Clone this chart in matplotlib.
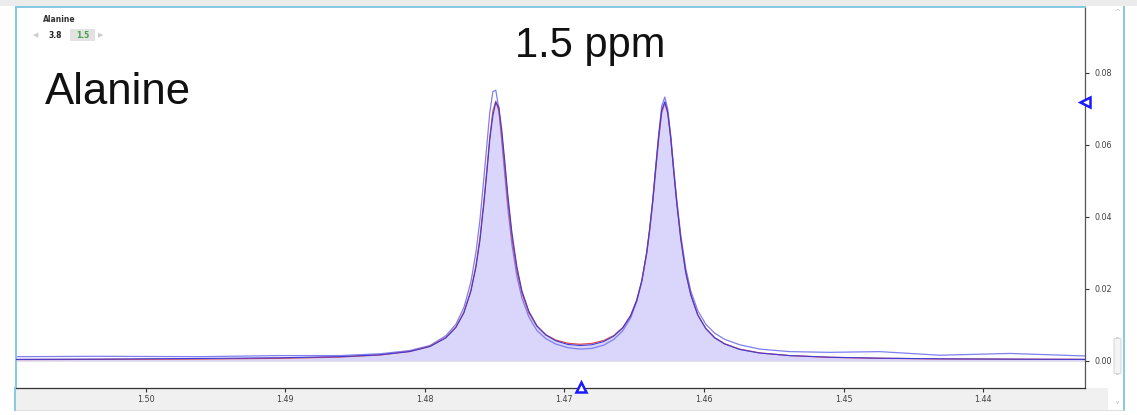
import matplotlib
matplotlib.use("Agg")
import matplotlib.pyplot as plt
from matplotlib.patches import Rectangle, FancyBboxPatch
from matplotlib.lines import Line2D

# ---------------- data ----------------
ppm = [1.50930, 1.50328, 1.49612, 1.49039, 1.48609, 1.48323, 1.48108, 1.47964,
       1.47850, 1.47778, 1.47721, 1.47671, 1.47635, 1.47606, 1.47578, 1.47556,
       1.47535, 1.47513, 1.47492, 1.47470, 1.47449, 1.47427, 1.47406, 1.47377,
       1.47341, 1.47305, 1.47255, 1.47198, 1.47133, 1.47062, 1.46976, 1.46890,
       1.46804, 1.46718, 1.46646, 1.46582, 1.46525, 1.46482, 1.46446, 1.46410,
       1.46389, 1.46367, 1.46346, 1.46324, 1.46303, 1.46281, 1.46260, 1.46238,
       1.46217, 1.46195, 1.46166, 1.46131, 1.46095, 1.46045, 1.45987, 1.45923,
       1.45851, 1.45744, 1.45601, 1.45386, 1.45099, 1.44741, 1.44311, 1.43810,
       1.43272]

fit_red = [0.00041, 0.00045, 0.00056, 0.00075, 0.00110, 0.00167, 0.00265, 0.00409,
           0.00652, 0.00945, 0.01353, 0.01959, 0.02641, 0.03411, 0.04426, 0.05323,
           0.06229, 0.06940, 0.07215, 0.06943, 0.06236, 0.05335, 0.04442, 0.03433,
           0.02511, 0.01887, 0.01336, 0.00968, 0.00729, 0.00581, 0.00492, 0.00464,
           0.00487, 0.00569, 0.00707, 0.00929, 0.01270, 0.01689, 0.02218, 0.03001,
           0.03637, 0.04412, 0.05298, 0.06194, 0.06895, 0.07166, 0.06891, 0.06186,
           0.05286, 0.04396, 0.03389, 0.02466, 0.01840, 0.01281, 0.00902, 0.00648,
           0.00477, 0.00329, 0.00225, 0.00149, 0.00102, 0.00075, 0.00059, 0.00050,
           0.00044]

spec_dark = [0.00045, 0.00052, 0.00070, 0.00090, 0.00120, 0.00170, 0.00262, 0.00400,
             0.00640, 0.00930, 0.01330, 0.01920, 0.02580, 0.03330, 0.04330, 0.05220,
             0.06140, 0.06800, 0.07180, 0.07050, 0.06400, 0.05520, 0.04620, 0.03580,
             0.02620, 0.01950, 0.01380, 0.00980, 0.00720, 0.00560, 0.00460, 0.00430,
             0.00450, 0.00540, 0.00690, 0.00920, 0.01260, 0.01690, 0.02230, 0.03030,
             0.03680, 0.04470, 0.05370, 0.06270, 0.06970, 0.07200, 0.06900, 0.06170,
             0.05260, 0.04370, 0.03370, 0.02460, 0.01840, 0.01280, 0.00900, 0.00640,
             0.00470, 0.00320, 0.00220, 0.00150, 0.00105, 0.00078, 0.00060, 0.00052,
             0.00045]

spec_light = [0.00120, 0.00130, 0.00120, 0.00150, 0.00150, 0.00200, 0.00290, 0.00430,
              0.00700, 0.01020, 0.01480, 0.02180, 0.03000, 0.03900, 0.05050, 0.06000,
              0.06900, 0.07480, 0.07520, 0.07000, 0.06100, 0.05150, 0.04250, 0.03250,
              0.02350, 0.01750, 0.01220, 0.00850, 0.00620, 0.00470, 0.00370, 0.00330,
              0.00350, 0.00440, 0.00600, 0.00840, 0.01200, 0.01650, 0.02200, 0.03020,
              0.03680, 0.04480, 0.05400, 0.06330, 0.07080, 0.07330, 0.07000, 0.06250,
              0.05350, 0.04470, 0.03480, 0.02580, 0.01950, 0.01400, 0.01020, 0.00770,
              0.00600, 0.00450, 0.00330, 0.00260, 0.00240, 0.00260, 0.00160, 0.00210,
              0.00140]

x_ticks = [1.50, 1.49, 1.48, 1.47, 1.46, 1.45, 1.44]
x_tick_labels = ["1.50", "1.49", "1.48", "1.47", "1.46", "1.45", "1.44"]
y_ticks = [0.00, 0.02, 0.04, 0.06, 0.08]
y_tick_labels = ["0.00", "0.02", "0.04", "0.06", "0.08"]

x_range = (1.5093, 1.4327)
y_range = (-0.0075, 0.0983)

cursor_ppm = 1.4688
cursor_level = 0.0719

title_text = "1.5 ppm"
compound = "Alanine"
nav_values = ["3.8", "1.5"]

# ---------------- figure ----------------
W, H = 1137, 415
fig = plt.figure(figsize=(W / 100, H / 100), dpi=100)
fig.patch.set_facecolor("white")

def fx(px):
    return px / W

def fy(py):
    return 1 - py / H

# gray band under x axis (tick label area)
fig.add_artist(Rectangle((fx(16), fy(410)), fx(1108) - fx(16), fy(388) - fy(410),
                         transform=fig.transFigure, facecolor="#f0f0f0",
                         edgecolor="none", zorder=0))
# top gray band
fig.add_artist(Rectangle((fx(0), fy(6)), 1, fy(0) - fy(6),
                         transform=fig.transFigure, facecolor="#ececec",
                         edgecolor="none", zorder=0))

ax = fig.add_axes([fx(16), fy(388), fx(1085) - fx(16), fy(7) - fy(388)])
ax.set_facecolor("white")

ax.fill_between(ppm, 0, spec_dark, color="#d9d5fb", lw=0, zorder=1)
ax.axhline(0, color="#e2e2e8", lw=0.8, zorder=1.5)
ax.plot(ppm, spec_light, color="#7f7ff0", lw=0.9, zorder=2)
ax.plot(ppm, fit_red, color="#e04848", lw=0.9, zorder=3)
ax.plot(ppm, spec_dark, color="#3c3cdc", lw=0.8, zorder=4)

ax.set_xlim(*x_range)
ax.set_ylim(*y_range)

ax.set_xticks(x_ticks)
ax.set_xticklabels(x_tick_labels)
ax.yaxis.tick_right()
ax.set_yticks(y_ticks)
ax.set_yticklabels(y_tick_labels)
ax.tick_params(axis="both", direction="out", length=3, width=0.8,
               colors="#333333", labelsize=5.8, labelcolor="#404040")
ax.tick_params(axis="x", pad=2)
ax.tick_params(axis="y", pad=4)

for side in ("left", "top"):
    ax.spines[side].set_color("#86c9e3")
    ax.spines[side].set_linewidth(1.4)
ax.spines["right"].set_color("#555555")
ax.spines["right"].set_linewidth(0.9)
ax.spines["bottom"].set_color("#333333")
ax.spines["bottom"].set_linewidth(0.9)

# cursor markers
ax.plot([cursor_ppm], [y_range[0] + 0.0003], marker="^", markersize=7,
        markerfacecolor="white", markeredgecolor="#1a1aff", markeredgewidth=1.8,
        clip_on=False, zorder=10)
ax.plot([x_range[1]], [cursor_level], marker="<", markersize=7,
        markerfacecolor="white", markeredgecolor="#1a1aff", markeredgewidth=1.8,
        clip_on=False, zorder=10)

# big texts
fig.text(fx(590), fy(46), title_text, fontsize=30, family="Liberation Sans",
         ha="center", va="center", color="#111111")
fig.text(fx(45), fy(93), compound, fontsize=31.5, family="Liberation Sans",
         ha="left", va="center", color="#111111")

# small navigator in the top-left
fig.text(fx(43), fy(20), compound, fontsize=5.5, fontweight="bold",
         ha="left", va="center", color="#333333")
fig.text(fx(33), fy(35), "\u25C0", fontsize=5, ha="left", va="center", color="#cccccc")
fig.text(fx(49), fy(35), nav_values[0], fontsize=5.5, fontweight="bold",
         ha="left", va="center", color="#222222")
fig.add_artist(Rectangle((fx(70), fy(41)), fx(95) - fx(70), fy(29) - fy(41),
                         transform=fig.transFigure, facecolor="#e2e2e2",
                         edgecolor="none"))
fig.text(fx(82.5), fy(35), nav_values[1], fontsize=5.5, fontweight="bold",
         ha="center", va="center", color="#4aa04a")
fig.text(fx(98), fy(35), "\u25B6", fontsize=5, ha="left", va="center", color="#cccccc")

# window frame lines
fig.add_artist(Line2D([fx(1123.5), fx(1123.5)], [fy(7), fy(410)],
                      transform=fig.transFigure, color="#86c9e3", lw=1.4))
fig.add_artist(Line2D([fx(15), fx(15)], [fy(388), fy(410)],
                      transform=fig.transFigure, color="#86c9e3", lw=1.4))
fig.add_artist(Line2D([fx(16), fx(1123)], [fy(410), fy(410)],
                      transform=fig.transFigure, color="#e0e0e0", lw=0.8))
# scrollbar
fig.add_artist(FancyBboxPatch((fx(1114), fy(374)), fx(1121) - fx(1114), fy(338) - fy(374),
                              boxstyle="round,pad=0,rounding_size=0.004",
                              transform=fig.transFigure, facecolor="#f4f4f4",
                              edgecolor="#d0d0d0", lw=0.6))
fig.text(fx(1117.5), fy(12), "^", fontsize=5, ha="center", va="center", color="#bbbbbb")
fig.text(fx(1117.5), fy(402), "v", fontsize=4, ha="center", va="center", color="#bbbbbb")

fig.savefig("out.png", dpi=100)
